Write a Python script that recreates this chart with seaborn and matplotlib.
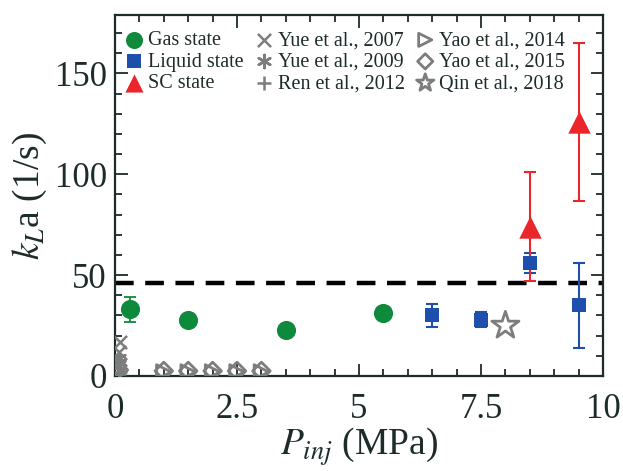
import numpy as np
import pandas as pd
import matplotlib
matplotlib.use("Agg")
import matplotlib.pyplot as plt
import seaborn as sns
from matplotlib.ticker import MultipleLocator

# ---- data ----
gas_x = [0.3, 1.5, 3.5, 5.5]
gas_y = [33, 28, 23, 31]
gas_err = [6, 0, 0, 0]

liq_x = [6.5, 7.5, 8.5, 9.5]
liq_y = [30, 28, 56, 35]
liq_err = [5.5, 3.5, 5, 21]

sc_x = [8.5, 9.5]
sc_y = [74, 126]
sc_err = [27, 39]

yue07_x = [0.1, 0.08]
yue07_y = [17, 12]
yue09_x = [0.08, 0.1, 0.06]
yue09_y = [9, 7, 5]
ren12_x = [0.06, 0.1, 0.08]
ren12_y = [4, 2, 1]
yao14_x = [0.06, 1.0, 1.5, 2.0, 2.5, 3.0]
yao14_y = [1.5, 2, 2, 2, 2, 2]
yao15_x = [0.08, 1.0, 1.5, 2.0, 2.5, 3.0]
yao15_y = [3, 2.5, 2.5, 2.5, 2.5, 2.5]
qin18_x = [8.0]
qin18_y = [25]

threshold = 46

# ---- style ----
sns.set_style("ticks")
plt.rcParams['font.family'] = ['Liberation Serif', 'DejaVu Serif']
plt.rcParams['mathtext.fontset'] = 'stix'
TXT = '#1e2b2b'
plt.rcParams['text.color'] = TXT
plt.rcParams['axes.labelcolor'] = TXT
plt.rcParams['xtick.color'] = TXT
plt.rcParams['ytick.color'] = TXT
plt.rcParams['axes.edgecolor'] = TXT

GREEN = '#0e8a3c'
BLUE = '#1f4fad'
RED = '#ea262b'
GRAY = '#7d7d7d'

fig = plt.figure(figsize=(6.23, 4.71), dpi=100)
ax = fig.add_axes([115/623, 95/471, 488/623, 361/471])

# threshold line
ax.axhline(threshold, color='black', lw=3.2, dashes=(4.2, 2.6), zorder=1)

# error bars
ax.errorbar(gas_x, gas_y, yerr=gas_err, fmt='none', ecolor=GREEN, elinewidth=1.3, capsize=4, capthick=1.3, zorder=2)
ax.errorbar(liq_x, liq_y, yerr=liq_err, fmt='none', ecolor=BLUE, elinewidth=1.5, capsize=4, capthick=1.5, zorder=2)
ax.errorbar(sc_x, sc_y, yerr=sc_err, fmt='none', ecolor=RED, elinewidth=1.5, capsize=4, capthick=1.5, zorder=2)

# main series
sns.scatterplot(x=gas_x, y=gas_y, ax=ax, marker='o', s=190, color=GREEN, edgecolor=GREEN, linewidth=0, label='Gas state', zorder=3)
sns.scatterplot(x=liq_x, y=liq_y, ax=ax, marker='s', s=110, color=BLUE, edgecolor=BLUE, linewidth=0, label='Liquid state', zorder=3)
sns.scatterplot(x=sc_x, y=sc_y, ax=ax, marker='^', s=260, color=RED, edgecolor=RED, linewidth=0, label='SC state', zorder=3)

# literature
sns.scatterplot(x=yue07_x, y=yue07_y, ax=ax, marker='x', s=90, color=GRAY, linewidth=1.8, label='Yue et al., 2007', zorder=4)
sns.scatterplot(x=yue09_x, y=yue09_y, ax=ax, marker=(6, 2, 0), s=90, color=GRAY, edgecolor=GRAY, linewidth=1.8, label='Yue et al., 2009', zorder=4)
sns.scatterplot(x=ren12_x, y=ren12_y, ax=ax, marker='+', s=100, color=GRAY, linewidth=1.8, label='Ren et al., 2012', zorder=4)
sns.scatterplot(x=yao14_x, y=yao14_y, ax=ax, marker='>', s=110, facecolor='none', edgecolor=GRAY, linewidth=2.0, label='Yao et al., 2014', zorder=4)
sns.scatterplot(x=yao15_x, y=yao15_y, ax=ax, marker='D', s=80, facecolor='none', edgecolor=GRAY, linewidth=2.0, label='Yao et al., 2015', zorder=4)
sns.scatterplot(x=qin18_x, y=qin18_y, ax=ax, marker='*', s=420, facecolor='none', edgecolor=GRAY, linewidth=2.0, label='Qin et al., 2018', zorder=4)

ax.set_xlim(0, 10)
ax.set_ylim(0, 179)
ax.yaxis.set_major_locator(MultipleLocator(50))
ax.yaxis.set_minor_locator(MultipleLocator(10))
ax.set_xticks([0, 2.5, 5, 7.5, 10])
ax.set_xticklabels(['0', '2.5', '5', '7.5', '10'])
ax.xaxis.set_minor_locator(MultipleLocator(0.5))
ax.tick_params(which='both', direction='in', top=True, right=True, width=1.3)
ax.tick_params(which='major', length=9, labelsize=25)
ax.tick_params(axis='x', which='major', pad=12)
ax.tick_params(axis='y', which='major', pad=6)
ax.tick_params(which='minor', length=5)
for sp in ax.spines.values():
    sp.set_linewidth(1.6)

ax.set_xlabel(r'$P_{inj}$ (MPa)', fontsize=27, labelpad=0)
ax.set_ylabel(r'$k_L$a (1/s)', fontsize=27, labelpad=4)

# legend
handles, labels = ax.get_legend_handles_labels()
leg = ax.legend(handles, labels, ncol=3, loc='upper left', frameon=False, fontsize=14.5,
                handletextpad=0.05, columnspacing=0.35, labelspacing=0.12,
                handlelength=1.3, borderaxespad=0.0, borderpad=0.3,
                bbox_to_anchor=(0.0, 1 - 10/361))
leg_sizes = [150, 110, 170, 90, 90, 100, 90, 60, 170]
for h, sz in zip(leg.legend_handles, leg_sizes):
    try:
        h.set_sizes([sz])
    except Exception:
        pass

fig.savefig('out.png', dpi=100)
